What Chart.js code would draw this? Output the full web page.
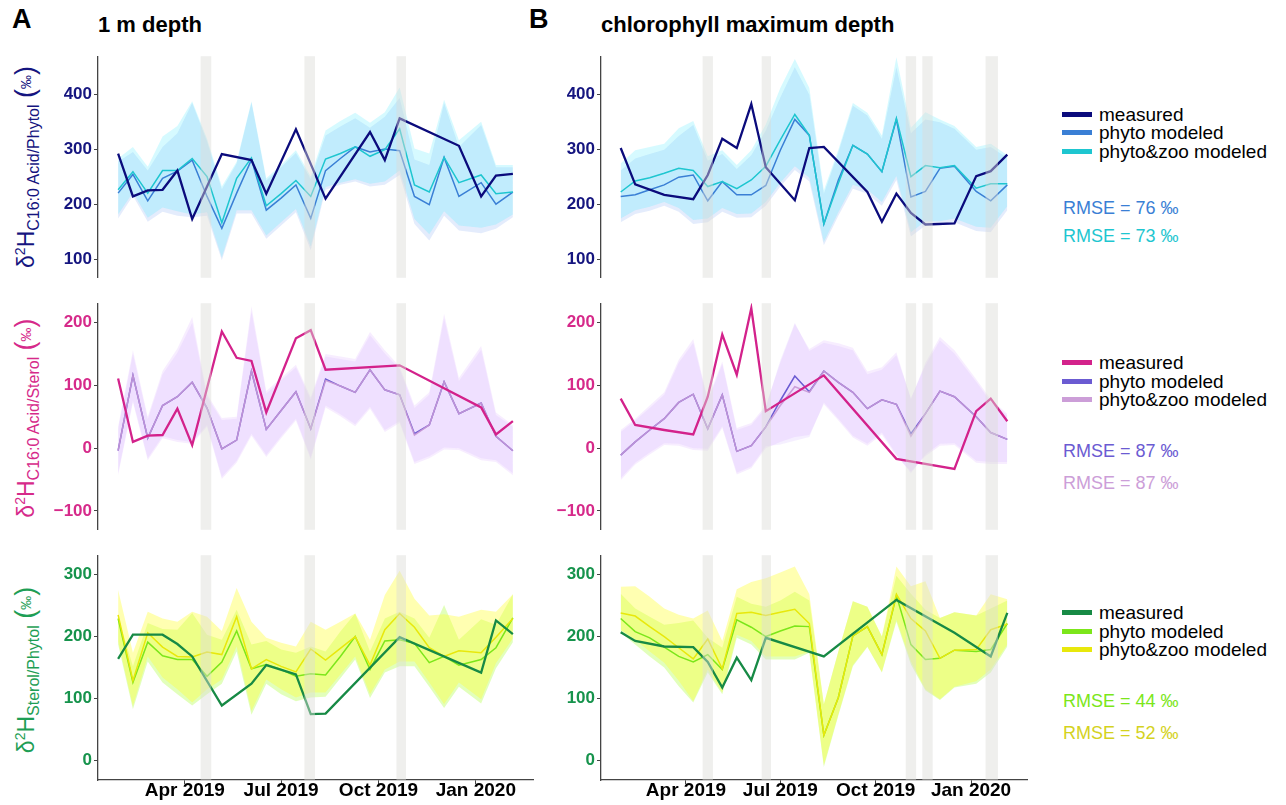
<!DOCTYPE html>
<html>
<head>
<meta charset="utf-8">
<script src="https://cdn.jsdelivr.net/npm/chart.js"></script>
<style>
body { margin: 0; background: #fff; font-family: "Liberation Sans", Arial, sans-serif; }
#page { position: relative; width: 1286px; height: 805px; overflow: hidden; }
canvas { position: absolute; }
.lab { position: absolute; font-weight: bold; color: #000; white-space: nowrap; }
.ytitle { position: absolute; white-space: nowrap; transform: translate(-50%, -50%) rotate(-90deg); font-size: 23px; line-height: 1; }
.ytitle sup { font-size: 14px; vertical-align: 9px; }
.ytitle sub { font-size: 16px; vertical-align: -5px; }
.ytitle .par { font-size: 27px; }
.ytitle .pm { font-size: 14px; vertical-align: 3px; }
.leg { position: absolute; left: 1062px; height: 22px; line-height: 22px; font-size: 19px; color: #000; white-space: nowrap; }
.leg span { display: inline-block; width: 30px; height: 5px; vertical-align: middle; margin-right: 7px; position: relative; top: -1px; }
.rmse { position: absolute; left: 1063px; height: 22px; line-height: 22px; font-size: 18px; white-space: nowrap; }
</style>
</head>
<body>
<div id="page">
  <div class="lab" style="left:12px; top:4px; font-size:27px;">A</div>
  <div class="lab" style="left:98px; top:12px; font-size:22px;">1 m depth</div>
  <div class="lab" style="left:529px; top:4px; font-size:27px;">B</div>
  <div class="lab" style="left:601px; top:12px; font-size:22px;">chlorophyll maximum depth</div>

  <div class="ytitle" style="left:27px; top:167px; color:#15157F;">δ<sup>2</sup>H<sub>C16:0 Acid/Phytol</sub> <span class="par">(</span><span class="pm">‰</span><span class="par">)</span></div>
  <div class="ytitle" style="left:27px; top:418px; color:#D62A8A;">δ<sup>2</sup>H<sub>C16:0 Acid/Sterol</sub> <span class="par">(</span><span class="pm">‰</span><span class="par">)</span></div>
  <div class="ytitle" style="left:27px; top:670px; color:#1E9E55;">δ<sup>2</sup>H<sub>Sterol/Phytol</sub> <span class="par">(</span><span class="pm">‰</span><span class="par">)</span></div>

  <canvas id="a1" width="490" height="246" style="left:50px; top:44px;"></canvas>
  <canvas id="a2" width="490" height="251" style="left:50px; top:291px;"></canvas>
  <canvas id="a3" width="490" height="262" style="left:50px; top:543px;"></canvas>
  <canvas id="b1" width="480" height="246" style="left:553px; top:44px;"></canvas>
  <canvas id="b2" width="480" height="251" style="left:553px; top:291px;"></canvas>
  <canvas id="b3" width="480" height="262" style="left:553px; top:543px;"></canvas>

  <div class="leg" style="top:104px;"><span style="background:#0B0B7C"></span>measured</div>
  <div class="leg" style="top:122px;"><span style="background:#3A7FD5"></span>phyto modeled</div>
  <div class="leg" style="top:141px;"><span style="background:#1EC6D0"></span>phyto&amp;zoo modeled</div>
  <div class="rmse" style="top:197px; color:#3A7FD5;">RMSE = 76 ‰</div>
  <div class="rmse" style="top:225px; color:#1EC6D0;">RMSE = 73 ‰</div>

  <div class="leg" style="top:352px;"><span style="background:#D3228B"></span>measured</div>
  <div class="leg" style="top:371px;"><span style="background:#6B5BD2"></span>phyto modeled</div>
  <div class="leg" style="top:389px;"><span style="background:#CC9ED8"></span>phyto&amp;zoo modeled</div>
  <div class="rmse" style="top:440px; color:#6B5BD2;">RMSE = 87 ‰</div>
  <div class="rmse" style="top:472px; color:#CC9ED8;">RMSE = 87 ‰</div>

  <div class="leg" style="top:602px;"><span style="background:#178A45"></span>measured</div>
  <div class="leg" style="top:621px;"><span style="background:#7CE61A"></span>phyto modeled</div>
  <div class="leg" style="top:639px;"><span style="background:#E8E80C"></span>phyto&amp;zoo modeled</div>
  <div class="rmse" style="top:690px; color:#7CE61A;">RMSE = 44 ‰</div>
  <div class="rmse" style="top:722px; color:#D4D21E;">RMSE = 52 ‰</div>
</div>

<script>
// sampling dates, counted in days from 1 Jan 2019
var sampleDays = [27,41,55,69,83,97,111,125,139,153,167,181,195,209,223,237,251,265,279,293,307,321,335,349,370,384,400];
var tickDays = [90, 181, 273, 365];
var tickLabels = ['Apr 2019', 'Jul 2019', 'Oct 2019', 'Jan 2020'];
var xMin = 8, xMax = 419;

// grey bars (days) marking the highlighted samplings
var bandsA = [[105,115],[203,213],[290,299]];
var bandsB = [[106,116],[163,172],[302,312],[318,328],[379,391]];

var yTicks1 = [100, 200, 300, 400];
var yTicks2 = [-100, 0, 100, 200];
var yTicks3 = [0, 100, 200, 300];

// A, 1 m depth - C16:0 acid / phytol
var a1Measured  = [293,215,226,227,262,174,null,292,null,281,220,null,337,null,211,null,null,332,281,357,null,null,null,307,215,253,256];
var a1Phyto     = [221,255,207,248,261,281,215,157,221,282,190,212,236,175,262,284,305,296,301,298,215,200,286,215,240,201,223];
var a1Zoo       = [227,260,221,262,262,284,251,167,248,285,198,220,244,215,283,293,305,288,300,338,236,223,286,240,254,220,223];
var a1PhytoHigh = [278,296,262,305,330,385,315,228,275,386,244,268,294,246,326,342,357,340,360,394,282,272,385,305,345,268,268];
var a1PhytoLow  = [175,216,169,187,180,177,180,99,184,184,138,162,186,117,227,236,242,233,236,254,165,135,180,153,148,156,177];
var a1ZooHigh   = [284,305,269,324,343,388,320,233,278,388,248,272,299,251,335,352,367,349,368,413,302,293,391,317,351,272,272];
var a1ZooLow    = [182,222,176,195,188,182,186,104,190,190,144,168,192,124,232,240,246,238,242,262,174,146,188,162,158,164,182];

// A, 1 m depth - C16:0 acid / sterol
var a2Measured  = [111,10,20,21,63,5,null,186,144,139,57,null,175,188,125,null,null,null,null,132,null,null,null,null,65,22,43];
var a2Phyto     = [-4,116,16,68,82,105,64,-1,13,123,30,60,90,31,110,99,89,125,93,85,23,37,106,55,72,19,-4];
var a2Zoo       = [-4,116,16,68,82,105,64,-1,13,123,30,60,90,31,108,99,89,125,93,85,21,37,106,55,72,19,-4];
var a2PhytoHigh = [31,150,46,118,152,200,82,45,47,218,87,108,129,77,146,142,138,180,151,126,64,85,207,107,157,53,34];
var a2PhytoLow  = [-40,76,-16,19,13,10,37,-46,-20,23,-11,19,47,-15,68,54,38,66,29,43,-22,-13,1,0,-16,-19,-40];
var a2ZooHigh   = [34,156,50,123,159,209,86,48,50,226,91,112,133,81,150,146,142,185,156,130,68,89,214,112,163,57,37];
var a2ZooLow    = [-43,73,-19,16,10,7,34,-49,-23,20,-14,16,44,-18,65,51,35,63,26,40,-25,-16,-2,-3,-19,-22,-43];

// A, 1 m depth - sterol / phytol
var a3Measured  = [164,203,null,203,188,168,null,89,null,124,154,null,139,75,76,null,null,null,null,199,null,null,null,null,142,226,204];
var a3Phyto     = [229,126,191,169,163,163,136,159,209,148,155,147,136,140,138,168,200,147,193,195,189,158,168,154,163,182,230];
var a3Zoo       = [235,129,206,183,168,167,175,171,232,148,163,152,143,180,162,181,200,154,211,237,215,182,168,177,174,199,229];
var a3PhytoHigh = [232,152,222,212,211,238,203,195,243,187,193,179,174,184,176,208,237,176,229,240,229,198,251,195,228,219,268];
var a3PhytoLow  = [187,83,160,126,107,89,107,124,176,74,124,107,96,102,103,133,163,101,142,152,152,119,85,119,92,149,191];
var a3ZooHigh   = [275,174,240,229,224,240,232,209,278,224,198,190,184,224,211,224,237,195,267,306,261,234,236,232,243,240,268];
var a3ZooLow    = [192,88,168,134,115,94,115,131,184,80,131,115,102,110,110,139,168,107,147,160,160,126,91,126,99,157,197];

// B, chlorophyll maximum - C16:0 acid / phytol
var b1Measured  = [303,237,null,218,null,210,254,320,303,383,268,null,208,303,305,null,null,223,169,220,185,164,null,166,252,261,291];
var b1Phyto     = [215,218,227,236,250,254,207,242,218,218,235,299,355,326,165,245,308,292,260,355,214,224,266,270,224,207,236];
var b1Zoo       = [223,243,249,257,266,262,233,242,229,245,270,318,364,326,165,239,308,292,260,357,251,271,267,271,230,238,238];
var b1PhytoHigh = [262,284,292,300,325,345,280,292,265,290,335,395,450,400,220,295,380,362,320,450,330,355,350,338,300,305,285];
var b1PhytoLow  = [168,183,189,198,187,165,168,187,176,177,198,233,263,242,126,180,229,220,198,245,142,162,162,168,152,150,190];
var b1ZooHigh   = [275,299,305,311,339,352,288,299,272,299,346,412,465,412,226,300,385,367,326,468,340,368,355,343,305,311,290];
var b1ZooLow    = [175,190,196,205,194,172,175,194,183,184,205,240,270,249,132,186,236,227,205,252,150,170,170,175,160,158,197];

// B, chlorophyll maximum - C16:0 acid / sterol
var b2Measured  = [79,37,null,29,null,22,82,181,117,223,59,null,null,null,116,null,null,null,null,-17,null,null,null,-33,59,79,43];
var b2Phyto     = [-11,10,29,47,73,86,31,85,-5,4,34,76,115,90,123,105,89,63,77,70,23,55,91,82,50,25,14];
var b2Zoo       = [-11,10,29,47,73,86,31,85,-5,4,34,68,98,89,123,105,89,63,77,70,19,55,91,82,50,25,14];
var b2PhytoHigh = [26,44,64,85,136,168,75,134,29,37,65,140,200,155,168,163,156,118,125,148,80,132,172,151,106,74,52];
var b2PhytoLow  = [-48,-23,-7,8,7,0,-1,35,-39,-29,3,6,12,18,73,47,20,7,25,-10,-40,-10,7,8,-20,-22,-22];
var b2ZooHigh   = [29,47,68,89,141,174,78,138,32,40,68,136,198,158,172,167,160,122,129,153,78,136,177,156,110,78,55];
var b2ZooLow    = [-51,-26,-10,5,4,-3,-4,32,-42,-32,0,10,18,21,70,44,17,4,22,-13,-37,-13,4,5,-23,-25,-25];

// B, chlorophyll maximum - sterol / phytol
var b3Measured  = [207,193,null,184,null,183,159,118,166,130,198,null,null,null,168,null,null,null,null,259,null,null,null,206,null,168,238];
var b3Phyto     = [229,208,198,183,168,159,171,147,227,215,200,209,217,216,41,102,201,216,171,266,187,163,165,178,176,179,221];
var b3Zoo       = [238,233,216,200,182,164,196,148,237,239,234,239,244,221,41,102,201,216,171,268,229,209,165,178,179,211,220];
var b3PhytoHigh = [269,245,232,219,222,226,198,182,264,253,248,258,272,258,91,176,257,248,200,298,269,243,230,239,234,245,258];
var b3PhytoLow  = [206,187,168,150,120,94,142,107,198,187,163,163,163,174,-10,73,152,183,142,224,155,113,98,118,124,142,184];
var b3ZooHigh   = [280,281,264,245,235,229,242,193,276,288,294,303,313,268,91,176,257,248,200,313,281,289,230,239,234,268,260];
var b3ZooLow    = [211,195,176,158,129,96,147,110,203,193,168,168,168,176,-7,75,154,184,143,227,160,115,99,119,128,147,187];

var rowStyle = {
  1: { text: '#15157F', measured: '#0B0B7C', phyto: '#3A7FD5', zoo: '#1EC6D0',
       phytoFill: 'rgba(120,160,240,0.2)', zooFill: 'rgba(70,230,255,0.22)', min: 67, max: 470, ticks: yTicks1 },
  2: { text: '#D62A8A', measured: '#D3228B', phyto: '#6B5BD2', zoo: 'rgba(200,152,214,0.9)',
       phytoFill: 'rgba(190,150,255,0.15)', zooFill: 'rgba(215,165,255,0.2)', min: -130, max: 231, ticks: yTicks2 },
  3: { text: '#16934C', measured: '#178A45', phyto: '#7CE61A', zoo: '#E8E80C',
       phytoFill: 'rgba(160,255,30,0.3)', zooFill: 'rgba(255,255,50,0.38)', min: -31, max: 331, ticks: yTicks3 }
};

function pts(values) {
  return sampleDays.map(function(d, i) { return { x: d, y: values[i] }; });
}

var bandPlugin = {
  id: 'bands',
  afterDatasetsDraw: function(chart, args, opts) {
    var ctx = chart.ctx, xs = chart.scales.x, area = chart.chartArea;
    ctx.save();
    ctx.fillStyle = 'rgba(220,219,216,0.45)';
    opts.list.forEach(function(b) {
      var x0 = xs.getPixelForValue(b[0]), x1 = xs.getPixelForValue(b[1]);
      ctx.fillRect(x0, area.top, x1 - x0, area.bottom - area.top);
    });
    ctx.restore();
  }
};

function makePanel(id, row, bands, s, rightPad) {
  var st = rowStyle[row];
  var bottomRow = (row === 3);
  var ribbon = { borderWidth: 0, pointRadius: 0, borderColor: 'rgba(0,0,0,0)' };
  return new Chart(document.getElementById(id), {
    type: 'line',
    data: {
      datasets: [
        Object.assign({ data: pts(s.phytoLow), fill: false, order: 40 }, ribbon),
        Object.assign({ data: pts(s.phytoHigh), fill: '-1', backgroundColor: st.phytoFill, order: 39 }, ribbon),
        Object.assign({ data: pts(s.zooLow), fill: false, order: 30 }, ribbon),
        Object.assign({ data: pts(s.zooHigh), fill: '-1', backgroundColor: st.zooFill, order: 29 }, ribbon),
        { label: 'phyto modeled', data: pts(s.phyto), borderColor: st.phyto, borderWidth: 1.5, pointRadius: 0, fill: false, order: 3 },
        { label: 'phyto&zoo modeled', data: pts(s.zoo), borderColor: st.zoo, borderWidth: 1.5, pointRadius: 0, fill: false, order: 2 },
        { label: 'measured', data: pts(s.measured), borderColor: st.measured, borderWidth: 2.3, pointRadius: 0, fill: false, spanGaps: true, order: 1 }
      ]
    },
    options: {
      responsive: false,
      animation: false,
      devicePixelRatio: 1,
      layout: { padding: { top: 10, bottom: bottomRow ? 0 : 10, left: 0, right: rightPad } },
      plugins: { legend: { display: false }, tooltip: { enabled: false }, bands: { list: bands } },
      scales: {
        x: {
          type: 'linear', min: xMin, max: xMax,
          display: bottomRow,
          grid: { drawOnChartArea: false, drawTicks: true, tickLength: 4, color: '#444' },
          border: { display: true, color: '#444', width: 1.3 },
          ticks: {
            color: '#000', padding: -5,
            font: { family: 'Liberation Sans', size: 19, weight: 'bold' },
            callback: function(v) { var k = tickDays.indexOf(v); return k >= 0 ? tickLabels[k] : ''; }
          },
          afterBuildTicks: function(scale) { scale.ticks = tickDays.map(function(v) { return { value: v }; }); },
          afterFit: function(scale) { scale.height = bottomRow ? 25 : 0; }
        },
        y: {
          min: st.min, max: st.max,
          grid: { drawOnChartArea: false, drawTicks: true, tickLength: 4, color: '#444' },
          border: { display: true, color: '#444', width: 1.3 },
          ticks: {
            color: st.text, padding: 2,
            font: { family: 'Liberation Sans', size: 17, weight: 'bold' },
            callback: function(v) { return v < 0 ? '\u2212' + Math.abs(v) : String(v); }
          },
          afterBuildTicks: function(scale) { scale.ticks = st.ticks.map(function(v) { return { value: v }; }); },
          afterFit: function(scale) { scale.width = 48; }
        }
      }
    },
    plugins: [bandPlugin]
  });
}

makePanel('a1', 1, bandsA, { measured: a1Measured, phyto: a1Phyto, zoo: a1Zoo, phytoHigh: a1PhytoHigh, phytoLow: a1PhytoLow, zooHigh: a1ZooHigh, zooLow: a1ZooLow }, 7);
makePanel('a2', 2, bandsA, { measured: a2Measured, phyto: a2Phyto, zoo: a2Zoo, phytoHigh: a2PhytoHigh, phytoLow: a2PhytoLow, zooHigh: a2ZooHigh, zooLow: a2ZooLow }, 7);
makePanel('a3', 3, bandsA, { measured: a3Measured, phyto: a3Phyto, zoo: a3Zoo, phytoHigh: a3PhytoHigh, phytoLow: a3PhytoLow, zooHigh: a3ZooHigh, zooLow: a3ZooLow }, 7);
makePanel('b1', 1, bandsB, { measured: b1Measured, phyto: b1Phyto, zoo: b1Zoo, phytoHigh: b1PhytoHigh, phytoLow: b1PhytoLow, zooHigh: b1ZooHigh, zooLow: b1ZooLow }, 6);
makePanel('b2', 2, bandsB, { measured: b2Measured, phyto: b2Phyto, zoo: b2Zoo, phytoHigh: b2PhytoHigh, phytoLow: b2PhytoLow, zooHigh: b2ZooHigh, zooLow: b2ZooLow }, 6);
makePanel('b3', 3, bandsB, { measured: b3Measured, phyto: b3Phyto, zoo: b3Zoo, phytoHigh: b3PhytoHigh, phytoLow: b3PhytoLow, zooHigh: b3ZooHigh, zooLow: b3ZooLow }, 6);
</script>
</body>
</html>
